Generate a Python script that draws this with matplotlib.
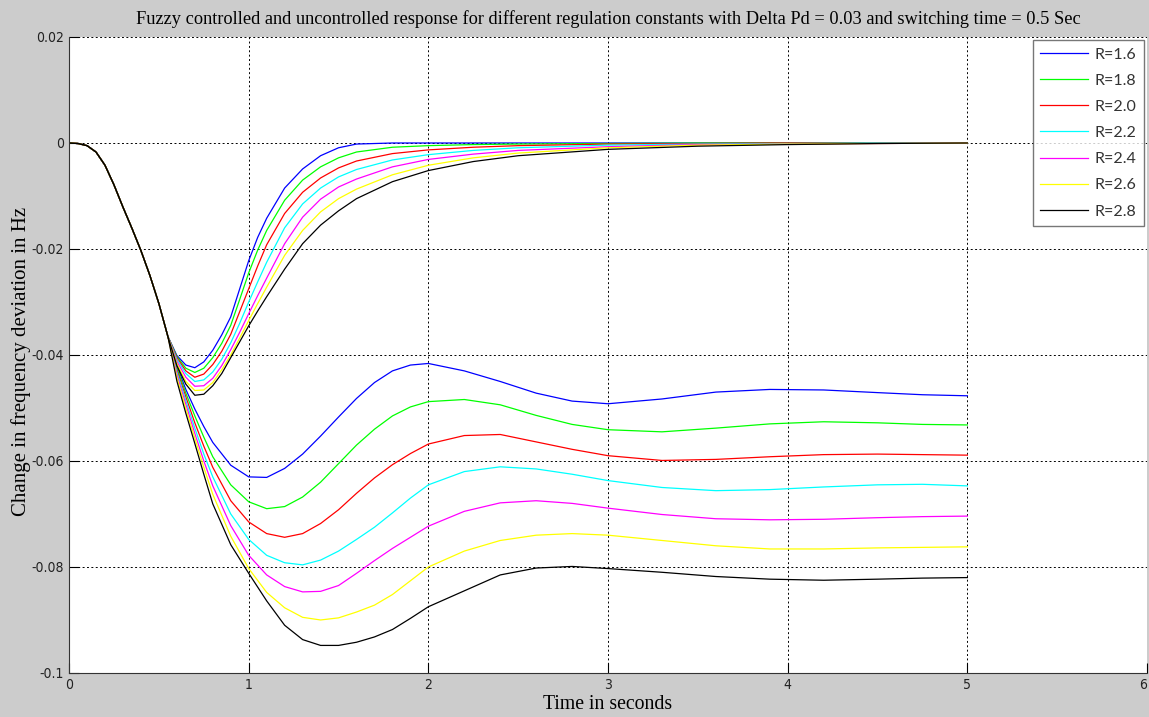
import numpy as np
import matplotlib
matplotlib.use('Agg')
import matplotlib.pyplot as plt
from matplotlib import font_manager as fm

# shared start of every response (before the curves split)
t_start = [0, 0.05, 0.1, 0.15, 0.2, 0.25, 0.3, 0.35, 0.4, 0.45, 0.5]
y_start = [0, -0.0001, -0.0005, -0.0017, -0.0042, -0.0079, -0.0121, -0.0161, -0.0203, -0.0250, -0.0303]

# fuzzy controlled responses (return to zero)
t_ctrl = [0.55, 0.6, 0.65, 0.7, 0.75, 0.8, 0.85, 0.9, 0.95, 1.0, 1.05, 1.1, 1.2, 1.3, 1.4, 1.5, 1.6,
          1.8, 2.0, 2.25, 2.5, 3.0, 3.5, 4.0, 4.5, 5.0]
ctrl_16 = [-0.0365, -0.0401, -0.0419, -0.0424, -0.0413, -0.0391, -0.0362, -0.0328, -0.0275, -0.0222, -0.0178, -0.0142,
           -0.0085, -0.0049, -0.0024, -0.0009, -0.0002, 0, 0, 0, 0, 0, 0, 0, 0, 0]
ctrl_18 = [-0.0365, -0.0403, -0.0425, -0.0433, -0.0425, -0.0405, -0.0378, -0.0344, -0.0295, -0.0245, -0.0202, -0.0165,
           -0.0108, -0.0070, -0.0045, -0.0028, -0.0017, -0.0008, -0.0005, -0.0003, -0.0002, -0.0001, 0, 0, 0, 0]
ctrl_20 = [-0.0365, -0.0405, -0.0430, -0.0442, -0.0436, -0.0418, -0.0393, -0.0361, -0.0318, -0.0275, -0.0232, -0.0192,
           -0.0133, -0.0093, -0.0066, -0.0047, -0.0034, -0.0020, -0.0013, -0.0008, -0.0005, -0.0002, -0.0001, 0, 0, 0]
ctrl_22 = [-0.0365, -0.0408, -0.0435, -0.0450, -0.0447, -0.0432, -0.0408, -0.0377, -0.0340, -0.0300, -0.0262, -0.0225,
           -0.0160, -0.0115, -0.0085, -0.0064, -0.0050, -0.0032, -0.0022, -0.0014, -0.0009, -0.0004, -0.0002, -0.0001, 0, 0]
ctrl_24 = [-0.0365, -0.0412, -0.0442, -0.0459, -0.0458, -0.0444, -0.0420, -0.0390, -0.0357, -0.0322, -0.0288, -0.0255,
           -0.0190, -0.0140, -0.0106, -0.0083, -0.0068, -0.0045, -0.0031, -0.0021, -0.0014, -0.0007, -0.0003, -0.0002, -0.0001, 0]
ctrl_26 = [-0.0365, -0.0416, -0.0450, -0.0467, -0.0466, -0.0452, -0.0428, -0.0400, -0.0368, -0.0335, -0.0303, -0.0272,
           -0.0212, -0.0165, -0.0130, -0.0105, -0.0087, -0.0060, -0.0042, -0.0028, -0.0019, -0.0009, -0.0004, -0.0002, -0.0001, 0]
ctrl_28 = [-0.0365, -0.0420, -0.0455, -0.0476, -0.0474, -0.0458, -0.0435, -0.0405, -0.0375, -0.0345, -0.0317, -0.0290,
           -0.0238, -0.0190, -0.0155, -0.0128, -0.0105, -0.0073, -0.0052, -0.0035, -0.0024, -0.0012, -0.0006, -0.0003, -0.0001, 0]

# uncontrolled responses (settle at a steady-state offset)
t_unc = [0.55, 0.6, 0.65, 0.7, 0.75, 0.8, 0.9, 1.0, 1.1, 1.2, 1.3, 1.4, 1.5, 1.6, 1.7, 1.8, 1.9, 2.0,
         2.2, 2.4, 2.6, 2.8, 3.0, 3.3, 3.6, 3.9, 4.2, 4.5, 4.75, 5.0]
unc_16 = [-0.0365, -0.0420, -0.0465, -0.0502, -0.0535, -0.0565, -0.0608, -0.0630, -0.0631, -0.0614, -0.0587,
          -0.0553, -0.0517, -0.0482, -0.0452, -0.0430, -0.0419, -0.0416, -0.0430, -0.0450, -0.0472, -0.0487,
          -0.0492, -0.0483, -0.0470, -0.0465, -0.0466, -0.0471, -0.0475, -0.0477]
unc_18 = [-0.0365, -0.0424, -0.0472, -0.0515, -0.0555, -0.0592, -0.0645, -0.0677, -0.0690, -0.0686, -0.0668,
          -0.0640, -0.0605, -0.0570, -0.0540, -0.0515, -0.0498, -0.0488, -0.0484, -0.0494, -0.0514, -0.0531,
          -0.0541, -0.0545, -0.0538, -0.0530, -0.0526, -0.0528, -0.0531, -0.0532]
unc_20 = [-0.0365, -0.0428, -0.0479, -0.0528, -0.0572, -0.0612, -0.0675, -0.0715, -0.0737, -0.0744, -0.0737,
          -0.0718, -0.0692, -0.0661, -0.0632, -0.0607, -0.0586, -0.0568, -0.0552, -0.0550, -0.0564, -0.0578,
          -0.0590, -0.0599, -0.0597, -0.0592, -0.0588, -0.0587, -0.0588, -0.0589]
unc_22 = [-0.0365, -0.0432, -0.0486, -0.0538, -0.0587, -0.0630, -0.0700, -0.0748, -0.0778, -0.0792, -0.0796,
          -0.0787, -0.0770, -0.0748, -0.0725, -0.0698, -0.0670, -0.0645, -0.0620, -0.0611, -0.0615, -0.0625,
          -0.0637, -0.0650, -0.0656, -0.0654, -0.0649, -0.0645, -0.0644, -0.0647]
unc_24 = [-0.0365, -0.0437, -0.0493, -0.0548, -0.0600, -0.0647, -0.0722, -0.0778, -0.0815, -0.0837, -0.0847,
          -0.0846, -0.0835, -0.0812, -0.0788, -0.0765, -0.0744, -0.0723, -0.0695, -0.0679, -0.0675, -0.0680,
          -0.0689, -0.0701, -0.0709, -0.0711, -0.0710, -0.0707, -0.0705, -0.0704]
unc_26 = [-0.0365, -0.0442, -0.0501, -0.0557, -0.0612, -0.0663, -0.0742, -0.0803, -0.0848, -0.0877, -0.0895,
          -0.0900, -0.0896, -0.0885, -0.0872, -0.0852, -0.0826, -0.0800, -0.0770, -0.0750, -0.0740, -0.0737,
          -0.0740, -0.0750, -0.0760, -0.0766, -0.0766, -0.0764, -0.0763, -0.0762]
unc_28 = [-0.0365, -0.0449, -0.0510, -0.0567, -0.0625, -0.0681, -0.0758, -0.0812, -0.0864, -0.0910, -0.0937,
          -0.0948, -0.0948, -0.0942, -0.0932, -0.0918, -0.0897, -0.0875, -0.0845, -0.0815, -0.0802, -0.0799,
          -0.0803, -0.0810, -0.0818, -0.0823, -0.0825, -0.0823, -0.0821, -0.0820]

labels = ['R=1.6', 'R=1.8', 'R=2.0', 'R=2.2', 'R=2.4', 'R=2.6', 'R=2.8']
colors = ['#0000ff', '#00ff00', '#ff0000', '#00ffff', '#ff00ff', '#ffff00', '#000000']
ctrl_all = [ctrl_16, ctrl_18, ctrl_20, ctrl_22, ctrl_24, ctrl_26, ctrl_28]
unc_all = [unc_16, unc_18, unc_20, unc_22, unc_24, unc_26, unc_28]

x_ticks = [0, 1, 2, 3, 4, 5, 6]
y_ticks = [-0.1, -0.08, -0.06, -0.04, -0.02, 0, 0.02]
y_tick_labels = ['-0.1', '-0.08', '-0.06', '-0.04', '-0.02', '0', '0.02']


def is_regular(f):
    w = f.weight
    if isinstance(w, str):
        ok_w = w.lower() in ('normal', 'regular', 'book', 'roman')
    else:
        ok_w = w == 400
    return ok_w and f.style == 'normal'


# narrow sans for the tick labels if one is installed
narrow = [f for f in fm.fontManager.ttflist
          if ('narrow' in f.name.lower() or 'condensed' in f.name.lower() or 'condensed' in str(f.stretch))
          and is_regular(f)]
narrow.sort(key=lambda f: 0 if 'Liberation' in f.name else 1)
if narrow:
    tick_prop = fm.FontProperties(fname=narrow[0].fname, size=10)
else:
    tick_prop = fm.FontProperties(family='DejaVu Sans', size=9)

fig = plt.figure(figsize=(11.49, 7.17), dpi=100, facecolor='#cccccc')
ax = fig.add_axes([0.0601, 0.0614, 0.9382, 0.887])
ax.set_facecolor('white')

for lab, c, yc, yu in zip(labels, colors, ctrl_all, unc_all):
    ax.plot(t_start + t_ctrl, y_start + yc, color=c, lw=0.9, label=lab)
    ax.plot(t_start + t_unc, y_start + yu, color=c, lw=0.9)

ax.set_xlim(0, 6)
ax.set_ylim(-0.1, 0.02)
ax.set_xticks(x_ticks)
ax.set_xticklabels([str(v) for v in x_ticks])
ax.set_yticks(y_ticks)
ax.set_yticklabels(y_tick_labels)

for lbl in ax.get_xticklabels() + ax.get_yticklabels():
    lbl.set_fontproperties(tick_prop)
    lbl.set_color('#222222')
ax.get_xticklabels()[-1].set_ha('right')
ax.tick_params(direction='in', length=7, width=0.8, pad=3.5, top=False, right=False)

ax.grid(True, color='black', linestyle=(0, (2, 2.5)), linewidth=0.7)
ax.spines['top'].set_visible(False)
ax.spines['right'].set_visible(False)
ax.spines['left'].set_color('#333333')
ax.spines['bottom'].set_color('#333333')

ax.set_title('Fuzzy controlled and uncontrolled response for different regulation constants with Delta Pd = 0.03 and switching time = 0.5 Sec',
             family='Liberation Serif', fontsize=13.2, pad=9)
ax.set_xlabel('Time in seconds', family='Liberation Serif', fontsize=14.2, labelpad=2)
ax.set_ylabel('Change in frequency deviation in Hz', family='Liberation Serif', fontsize=15)
ax.yaxis.set_label_coords(-0.035, 0.49)

leg = ax.legend(loc='upper right', prop={'family': 'Lato', 'size': 11.5},
                frameon=True, fancybox=False, handlelength=3.0,
                borderaxespad=0.2, labelspacing=0.75, handletextpad=0.4, borderpad=0.45)
leg.get_frame().set_edgecolor('#555555')
leg.get_frame().set_linewidth(1.0)
for txt in leg.get_texts():
    txt.set_color('#333333')

fig.savefig('out.png', dpi=100, facecolor=fig.get_facecolor())
